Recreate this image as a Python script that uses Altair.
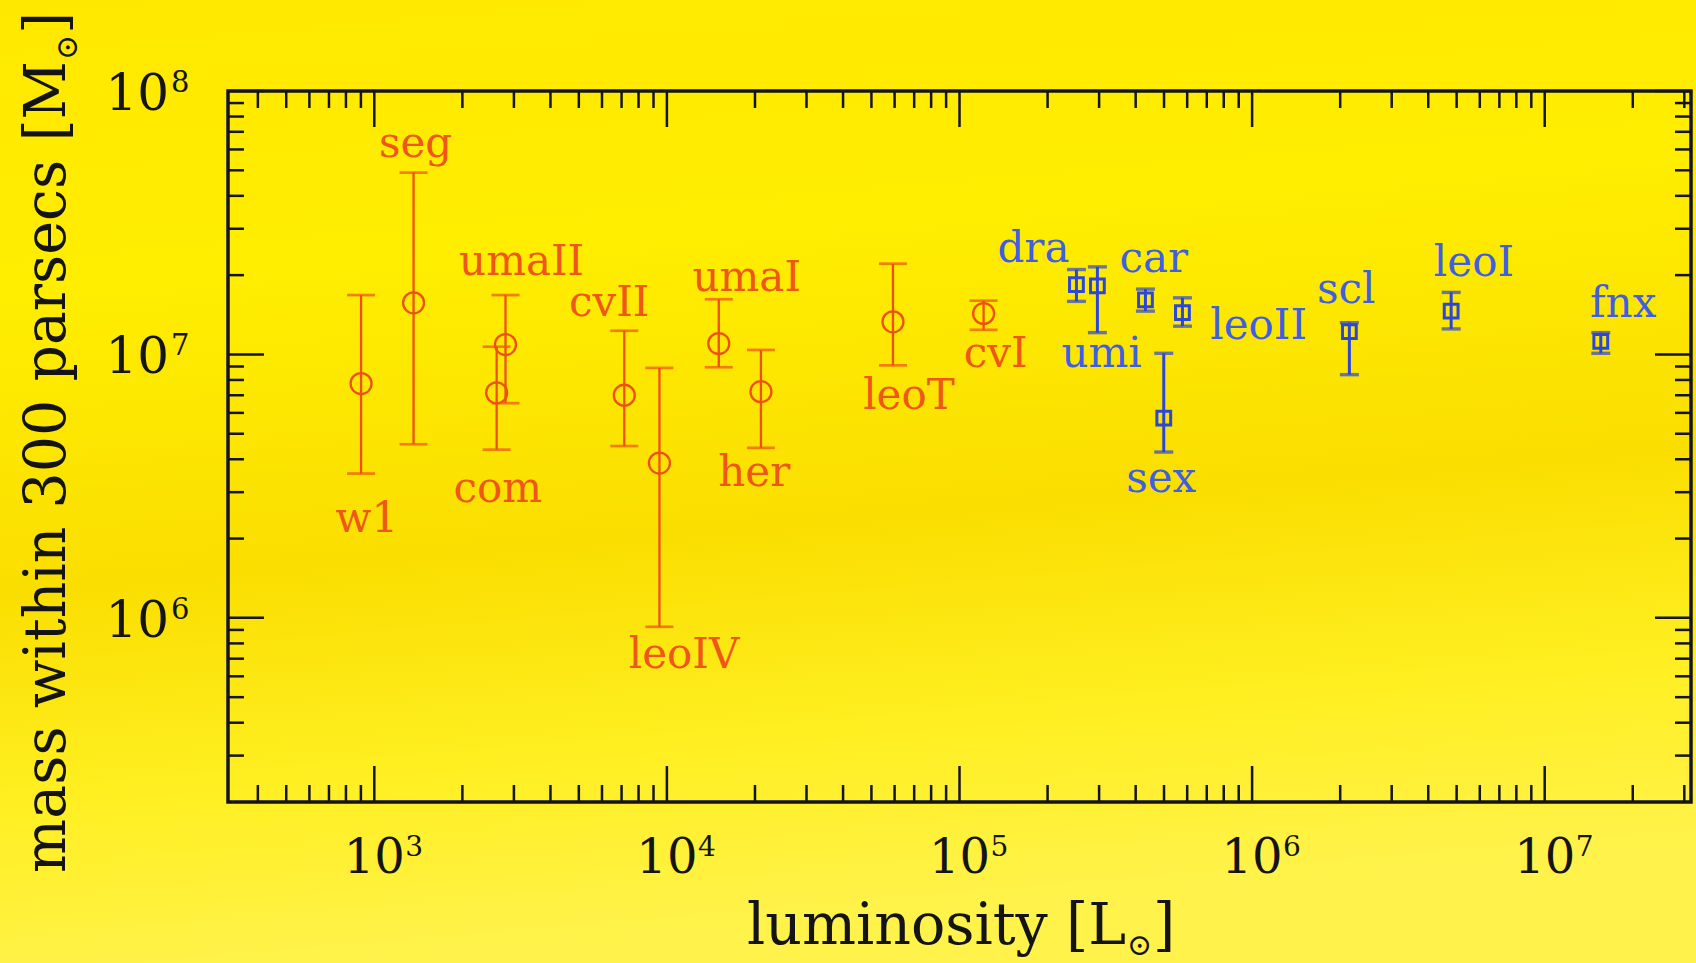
import altair as alt
import pandas as pd

# Milky Way dwarf spheroidal satellites: luminosity [L_sun] versus mass
# enclosed within 300 pc [M_sun], with the 68% range of each mass estimate.
names = ["w1", "seg", "com", "umaII", "cvII", "leoIV", "umaI", "her", "leoT", "cvI",
         "dra", "umi", "car", "sex", "leoII", "scl", "leoI", "fnx"]
kind = ["faint"] * 10 + ["classical"] * 8
lum = [901, 1362, 2619, 2808, 7150, 9430, 15040, 20960, 59240, 1.209e5,
       2.51e5, 2.96e5, 4.32e5, 4.99e5, 5.78e5, 2.15e6, 4.79e6, 1.555e7]
mass = [7.75e6, 1.57e7, 7.15e6, 1.09e7, 7.0e6, 3.87e6, 1.10e7, 7.22e6, 1.33e7, 1.43e7,
        1.84e7, 1.82e7, 1.61e7, 5.73e6, 1.44e7, 1.22e7, 1.46e7, 1.12e7]
mass_lo = [3.53e6, 4.56e6, 4.35e6, 6.53e6, 4.49e6, 9.25e5, 8.94e6, 4.42e6, 9.09e6, 1.24e7,
           1.59e7, 1.21e7, 1.46e7, 4.26e6, 1.28e7, 8.38e6, 1.25e7, 1.01e7]
mass_hi = [1.68e7, 4.9e7, 1.07e7, 1.68e7, 1.23e7, 8.89e6, 1.62e7, 1.04e7, 2.21e7, 1.60e7,
           2.10e7, 2.15e7, 1.77e7, 1.01e7, 1.64e7, 1.32e7, 1.72e7, 1.21e7]
# where each name is written, in data units
label_lum = [943, 1384, 2642, 3188, 6353, 11440, 18740, 19890, 67200, 1.329e5,
             1.789e5, 3.06e5, 4.61e5, 4.89e5, 1.053e6, 2.097e6, 5.73e6, 1.855e7]
label_mass = [2.38e6, 6.29e7, 3.09e6, 2.25e7, 1.57e7, 7.23e5, 1.95e7, 3.56e6, 6.97e6, 1.007e7,
              2.52e7, 1.007e7, 2.31e7, 3.37e6, 1.28e7, 1.76e7, 2.23e7, 1.56e7]

# axis ticks and their labels
x_major = [1e3, 1e4, 1e5, 1e6, 1e7]
x_exp = ["3", "4", "5", "6", "7"]
x_minor = [400, 500, 600, 700, 800, 900] + [m * 10 ** k for k in range(3, 7) for m in range(2, 10)] + [2e7, 3e7]
y_major = [1e6, 1e7, 1e8]
y_exp = ["6", "7", "8"]
y_minor = [3e5, 4e5, 5e5, 6e5, 7e5, 8e5, 9e5] + [m * 10 ** k for k in range(6, 8) for m in range(2, 10)]

gal = pd.DataFrame(dict(name=names, kind=kind, lum=lum, mass=mass, lo=mass_lo, hi=mass_hi,
                        tx=label_lum, ty=label_mass))

W, H = 1463, 711
FONT = "DejaVu Serif"
INK = "#141414"
xs = alt.Scale(type="log", domain=[10 ** 2.5, 10 ** 7.5])
ys = alt.Scale(type="log", domain=[2e5, 1e8])
one = alt.Data(values=[{"k": 0}])


def X(f):
    return alt.X(f, type="quantitative", scale=xs, axis=None)


def Y(f):
    return alt.Y(f, type="quantitative", scale=ys, axis=None)


# paper background with a soft vertical wash
bg = alt.Chart(one).mark_rect(
    fill=alt.LinearGradient(
        gradient="linear", x1=0, y1=0, x2=0.15, y2=1,
        stops=[alt.GradientStop(color="#FFE800", offset=0),
               alt.GradientStop(color="#FFEE00", offset=0.3),
               alt.GradientStop(color="#FADE00", offset=0.6),
               alt.GradientStop(color="#FFEF22", offset=0.82),
               alt.GradientStop(color="#FFF24A", offset=1)])
).encode(x=alt.value(-228), x2=alt.value(W + 5), y=alt.value(-91), y2=alt.value(H + 161))

frame = alt.Chart(one).mark_rect(fillOpacity=0, stroke=INK, strokeWidth=3.5).encode(
    x=alt.value(0), x2=alt.value(W), y=alt.value(0), y2=alt.value(H))


def xticks(vals, length, top):
    y0, y1 = (0, length) if top else (H, H - length)
    return alt.Chart(pd.DataFrame({"v": vals})).mark_rule(color=INK, strokeWidth=2.5).encode(
        x=X("v"), y=alt.value(y0), y2=alt.value(y1))


def yticks(vals, length, right):
    x0, x1 = (W, W - length) if right else (0, length)
    return alt.Chart(pd.DataFrame({"v": vals})).mark_rule(color=INK, strokeWidth=2.5).encode(
        y=Y("v"), x=alt.value(x0), x2=alt.value(x1))


ticks = [xticks(x_major, 36, False), xticks(x_minor, 17, False),
         xticks(x_major, 36, True), xticks(x_minor, 17, True),
         yticks(y_major, 36, False), yticks(y_minor, 16, False),
         yticks(y_major, 36, True), yticks(y_minor, 16, True)]

xlab = pd.DataFrame({"v": x_major, "e": x_exp})
ylab = pd.DataFrame({"v": y_major, "e": y_exp})
tick_labels = [
    alt.Chart(xlab).mark_text(text="10", font=FONT, fontSize=48, align="center",
                              baseline="alphabetic", color=INK).encode(x=X("v"), y=alt.value(H + 71)),
    alt.Chart(xlab).mark_text(font=FONT, fontSize=28, align="left", baseline="alphabetic",
                              dx=31, color=INK).encode(x=X("v"), y=alt.value(H + 54), text="e:N"),
    alt.Chart(ylab).mark_text(text="10", font=FONT, fontSize=50, align="right",
                              baseline="alphabetic", dy=19, color=INK).encode(x=alt.value(-59), y=Y("v")),
    alt.Chart(ylab).mark_text(font=FONT, fontSize=29, align="left", baseline="alphabetic",
                              dy=1, color=INK).encode(x=alt.value(-57), y=Y("v"), text="e:N"),
]

# axis titles, with the solar symbol set as a subscript
TS = 57
xb = 898
xbase = H + 142
titles = [
    alt.Chart(one).mark_text(text="luminosity [L", font=FONT, fontSize=TS, align="right",
                             baseline="alphabetic", color=INK).encode(x=alt.value(xb), y=alt.value(xbase)),
    alt.Chart(one).mark_text(text="\u2299", font=FONT, fontSize=30, align="left",
                             baseline="alphabetic", color=INK).encode(x=alt.value(xb + 1), y=alt.value(xbase + 11)),
    alt.Chart(one).mark_text(text="]", font=FONT, fontSize=TS, align="left",
                             baseline="alphabetic", color=INK).encode(x=alt.value(xb + 27), y=alt.value(xbase)),
]
yb = -30
titles += [
    alt.Chart(one).mark_text(text="mass within 300 parsecs [M", font=FONT, fontSize=TS, angle=270,
                             align="right", baseline="alphabetic", color=INK).encode(x=alt.value(-163), y=alt.value(yb)),
    alt.Chart(one).mark_text(text="\u2299", font=FONT, fontSize=30, angle=270, align="left",
                             baseline="alphabetic", dy=12, color=INK).encode(x=alt.value(-163), y=alt.value(yb - 1)),
    alt.Chart(one).mark_text(text="]", font=FONT, fontSize=TS, angle=270, align="left",
                             baseline="alphabetic", color=INK).encode(x=alt.value(-163), y=alt.value(yb - 27)),
]


def series(which, color, text_color, shape, size, cap, width):
    base = alt.Chart(gal).transform_filter(alt.datum.kind == which)
    bar = base.mark_rule(color=color, strokeWidth=width).encode(x=X("lum"), y=Y("lo"), y2="hi:Q")
    cap_lo = base.mark_tick(orient="horizontal", color=color, size=cap, thickness=width + 0.4).encode(
        x=X("lum"), y=Y("lo"))
    cap_hi = base.mark_tick(orient="horizontal", color=color, size=cap, thickness=width + 0.4).encode(
        x=X("lum"), y=Y("hi"))
    pt = base.mark_point(shape=shape, size=size, filled=False, color=color, strokeWidth=width,
                         opacity=1).encode(x=X("lum"), y=Y("mass"))
    txt = base.mark_text(font=FONT, fontSize=42, color=text_color, align="center",
                         baseline="middle").encode(x=X("tx"), y=Y("ty"), text="name:N")
    return [bar, cap_lo, cap_hi, pt, txt]


faint = series("faint", "#EE5014", "#EF561A", "circle", 440, 28, 2.3)
classical = series("classical", "#2B46DA", "#3F5EE2", "square", 190, 19, 3)

chart = alt.layer(bg, *ticks, frame, *faint, *classical, *tick_labels, *titles).properties(
    width=W, height=H, autosize="none",
    padding={"left": 228, "top": 91, "right": 5, "bottom": 161},
).configure_view(stroke=None).configure(background="#FCE600")

chart.save("out.html", embed_options={"renderer": "svg", "actions": False})
